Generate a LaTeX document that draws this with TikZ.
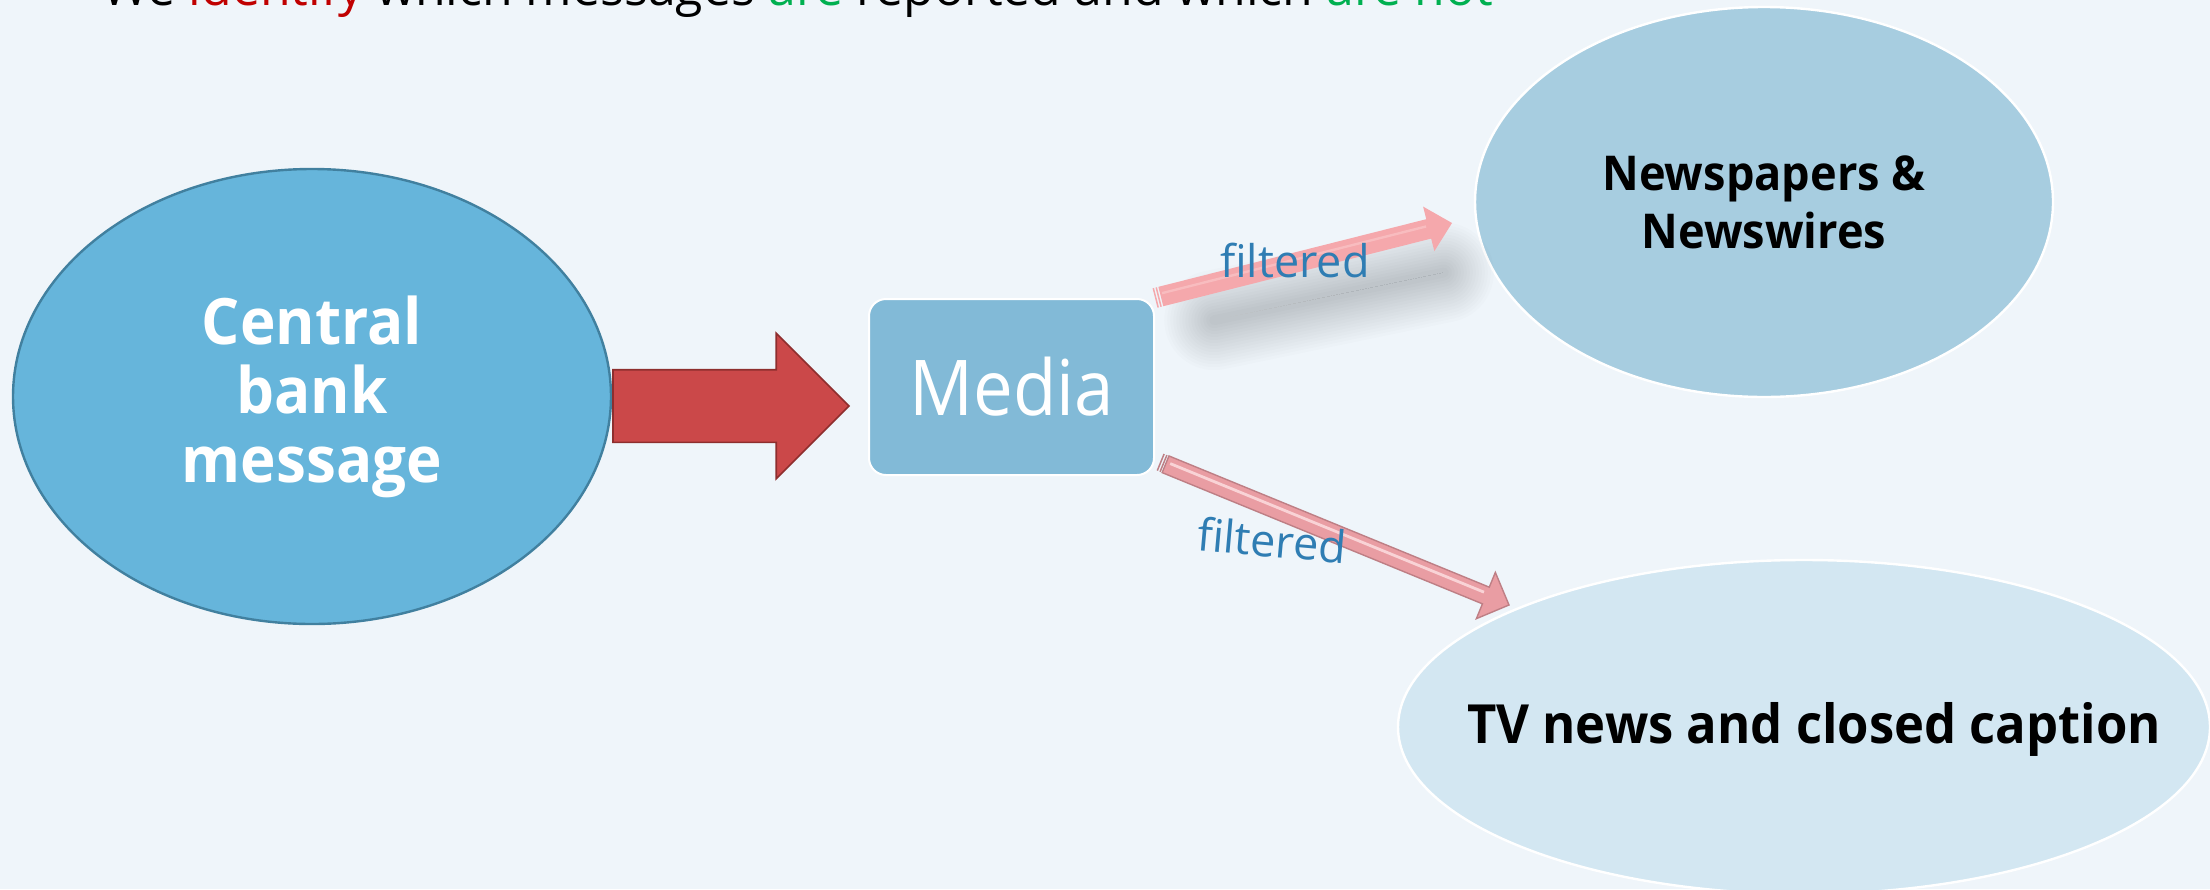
\documentclass[tikz,border=0pt]{standalone}
\usepackage{fontspec}
\setmainfont{Open Sans}[BoldFeatures={FakeStretch=0.94}]
\newfontfamily\mediafont{Open Sans}[FakeStretch=0.92]
\usetikzlibrary{shapes.geometric,shapes.arrows,calc}

\definecolor{bg}{HTML}{EFF5FA}
\definecolor{cbfill}{HTML}{66B5DB}
\definecolor{cbedge}{HTML}{41809F}
\definecolor{pushred}{HTML}{CB4849}
\definecolor{pushedge}{HTML}{8E2E2E}
\definecolor{mediafill}{HTML}{82BAD7}
\definecolor{newsfill}{HTML}{A7CDE0}
\definecolor{tvfill}{HTML}{D3E7F2}
\definecolor{pinkA}{HTML}{F5A8AC}
\definecolor{pinkAlight}{HTML}{F8BCBF}
\definecolor{pinkB}{HTML}{E99DA3}
\definecolor{pinkBedge}{HTML}{BE7F85}
\definecolor{pinkBlight}{HTML}{F9D3D6}
\definecolor{shade}{HTML}{8A92A3}
\definecolor{labelblue}{HTML}{2F7DB3}
\definecolor{tred}{HTML}{C00000}
\definecolor{tgreen}{HTML}{00B050}

% angle and length of the segment between two points
\newcommand\segmeasure[2]{%
  \path let \p1=(#1), \p2=(#2) in \pgfextra{%
    \pgfmathsetmacro\segAng{atan2(\y2-\y1,\x2-\x1)}%
    \pgfmathsetmacro\segLen{veclen(\x2-\x1,\y2-\y1)}%
    \global\let\segAng\segAng \global\let\segLen\segLen};}

\tikzset{
  bubble/.style={ellipse, inner sep=0pt, align=center, line width=1.2pt},
  lbl/.style={text=labelblue, font=\fontsize{22.5}{26}\selectfont, inner sep=0pt},
}

\begin{document}
\begin{tikzpicture}[x=0.5pt, y=-0.5pt]
  \fill[bg] (0,0) rectangle (2210,889);
  \useasboundingbox (0,0) rectangle (2210,889);

  % heading line
  \node[anchor=base west, inner sep=0pt, font=\fontsize{25}{28}\selectfont] (title) at (102,5)
    {We {\color{tred}identify} which messages {\color{tgreen}are} reported and which {\color{tgreen}are not}};

  % nodes
  \node[bubble, fill=cbfill, draw=cbedge, minimum width=299pt, minimum height=227.5pt,
        text=white, font=\bfseries\fontsize{32}{34.5}\selectfont] (cb) at (312,396.5)
    {Central\\bank\\message};
  \node[rectangle, rounded corners=8.5pt, fill=mediafill, draw=white, line width=1pt,
        minimum width=142.5pt, minimum height=88pt, text=white,
        font=\mediafont\fontsize{38.5}{42}\selectfont] (media) at (1011.5,387) {Media};
  \node[bubble, fill=newsfill, draw=white, minimum width=289pt, minimum height=195pt,
        font=\bfseries\fontsize{24}{29}\selectfont] (news) at (1764,202)
    {Newspapers \&\\Newswires};
  \node[bubble, fill=tvfill, draw=white, minimum width=406pt, minimum height=167pt] (tv) at (1804,727) {};
  \node[anchor=base, inner sep=0pt, font=\bfseries\fontsize{27}{30}\selectfont] (tvtext) at (1814,743)
    {TV news and closed caption};

  % block arrow from the message to the media
  \node[single arrow, single arrow tip angle=90, single arrow head extend=18.25pt,
        minimum height=118pt, inner xsep=0pt, inner ysep=17.75pt, anchor=tail,
        fill=pushred, draw=pushedge, line width=0.8pt] (push) at (cb.east |- 0,406) {};

  % free ends of the two filter arrows
  \coordinate (newsin) at (1452,223);
  \coordinate (tvtail) at (1160,462);
  \coordinate (tvin) at (1509,605);

  % upper filter arrow (towards newspapers), with soft shadow
  \segmeasure{media.north east}{newsin}
  \begin{scope}[shift={(media.north east)}, rotate=\segAng]
    \foreach \w in {50,47,...,4}
      \draw[shade, line cap=round, opacity=0.013, line width=\w pt]
        (26pt,-18pt) -- ({\segLen pt-10pt},-23pt);
    \fill[pinkA]
      (3pt,-5pt) -- ({\segLen pt-12pt},-5pt) -- ({\segLen pt-12pt},-11.5pt)
      -- (\segLen pt,0pt) -- ({\segLen pt-12pt},11.5pt) -- ({\segLen pt-12pt},5pt)
      -- (3pt,5pt) -- cycle;
    \draw[pinkAlight, line width=1.2pt] (4pt,1.5pt) -- ({\segLen pt-13pt},1.5pt);
    \fill[pinkA] (0pt,-5pt) rectangle (0.75pt,5pt);
    \fill[pinkA] (1.5pt,-5pt) rectangle (2.25pt,5pt);
  \end{scope}

  % lower filter arrow (towards television)
  \segmeasure{tvtail}{tvin}
  \begin{scope}[shift={(tvtail)}, rotate=\segAng]
    \filldraw[fill=pinkB, draw=pinkBedge, line width=0.7pt, line join=miter]
      (3pt,-4.5pt) -- ({\segLen pt-12.5pt},-4.5pt) -- ({\segLen pt-12.5pt},-12.5pt)
      -- (\segLen pt,0pt) -- ({\segLen pt-12.5pt},12.5pt) -- ({\segLen pt-12.5pt},4.5pt)
      -- (3pt,4.5pt) -- cycle;
    \draw[pinkBlight, line width=1.4pt] (5pt,1.2pt) -- ({\segLen pt-14pt},1.2pt);
    \fill[pinkBedge] (0pt,-4.5pt) rectangle (0.75pt,4.5pt);
    \fill[pinkBedge] (1.5pt,-4.5pt) rectangle (2.25pt,4.5pt);
  \end{scope}

  % arrow labels
  \node[lbl, anchor=base] (f1) at (1295,277) {filtered};
  \node[lbl, rotate=-5] (f2) at (1272,540) {filtered};
\end{tikzpicture}
\end{document}
